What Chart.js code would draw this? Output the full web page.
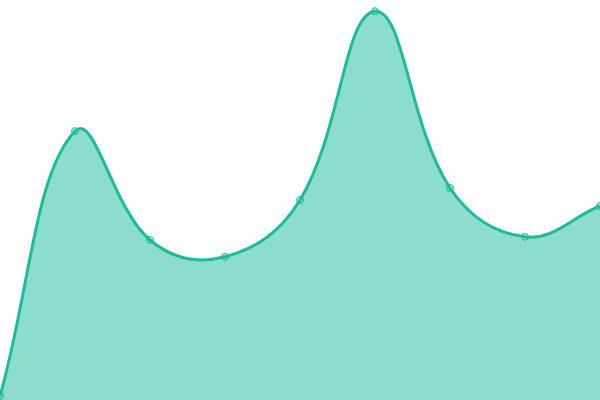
<!DOCTYPE html>
<html lang="en">
<head>
    <meta charset="UTF-8" />
    <title>Area curve</title>
    <script src="https://cdn.jsdelivr.net/npm/chart.js"></script>
    <style>
        html, body { margin: 0; padding: 0; background: #fff; }
        #wrap { width: 600px; height: 400px; }
    </style>
</head>
<body>
    <div id="wrap"><canvas id="areaChart"></canvas></div>
    <script>
        // categories and values (y axis 0..100)
        const labels = ['1', '2', '3', '4', '5', '6', '7', '8', '9'];
        const values = [1, 67.2, 40, 35.8, 50, 97.2, 53, 40.8, 48.5];

        const ctx = document.getElementById('areaChart').getContext('2d');
        new Chart(ctx, {
            type: 'line',
            data: {
                labels: labels,
                datasets: [{
                    data: values,
                    borderColor: 'rgb(26, 188, 156)',
                    backgroundColor: 'rgba(26, 188, 156, 0.5)',
                    borderWidth: 3,
                    fill: true,
                    tension: 0.4,
                    pointRadius: 3.5,
                    pointBorderWidth: 1,
                    pointBackgroundColor: 'rgba(26, 188, 156, 0.3)',
                    pointBorderColor: 'rgb(26, 188, 156)'
                }]
            },
            options: {
                responsive: true,
                maintainAspectRatio: false,
                animation: false,
                layout: { padding: 0, autoPadding: false },
                plugins: { legend: { display: false }, tooltip: { enabled: false } },
                scales: {
                    x: { display: false },
                    y: { display: false, min: 0, max: 100 }
                }
            }
        });
    </script>
</body>
</html>
